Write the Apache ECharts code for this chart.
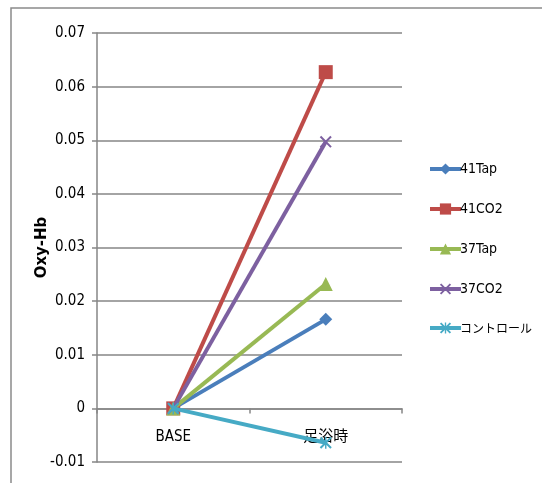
<!DOCTYPE html>
<html>
<head>
<meta charset="utf-8">
<script src="https://cdn.jsdelivr.net/npm/echarts@6/dist/echarts.min.js"></script>
<style>
  html, body { margin: 0; padding: 0; background: #fff; }
  #chart { width: 542px; height: 483px; }
</style>
</head>
<body>
<div id="chart"></div>
<script>
// Measurement phases
const categories = ['BASE', '足浴時'];

// Oxy-Hb change per condition
const tap41 = [0, 0.0166];
const co2_41 = [0, 0.0627];
const tap37 = [0, 0.0232];
const co2_37 = [0, 0.0497];
const control = [0, -0.0064];

const seriesNames = ['41Tap', '41CO2', '37Tap', '37CO2', 'コントロール'];
const yTicks = { min: -0.01, max: 0.07, step: 0.01 };

const colors = ['#4A7EBB', '#BE4B48', '#98B954', '#7D60A0', '#46AAC5'];
const crossPath = 'path://M0,1.2L1.2,0L10,8.8L8.8,10Z M8.8,0L10,1.2L1.2,10L0,8.8Z';
const starPath = 'path://M0,1.2L1.2,0L10,8.8L8.8,10Z M8.8,0L10,1.2L1.2,10L0,8.8Z M4.4,0L5.6,0L5.6,10L4.4,10Z';
const symbols = ['diamond', 'rect', 'triangle', crossPath, starPath];
const symbolSizes = [13, 14, 14, 12, 12];

const font = '"DejaVu Sans Condensed", "Liberation Sans Narrow", "Noto Sans CJK JP", sans-serif';
const cjkFont = '"DejaVu Sans Condensed", "Noto Sans CJK JP", sans-serif';
const dataSets = [tap41, co2_41, tap37, co2_37, control];

const chart = echarts.init(document.getElementById('chart'), null, { renderer: 'canvas' });

chart.setOption({
  animation: false,
  backgroundColor: '#fff',
  color: colors,
  graphic: [{
    type: 'rect',
    shape: { x: 11, y: 8, width: 700, height: 700 },
    style: { fill: 'none', stroke: '#8a8a8a', lineWidth: 1.5 },
    silent: true
  }],
  grid: { left: 97, right: 140, top: 33, bottom: 21, containLabel: false, outerBoundsMode: 'none' },
  legend: {
    orient: 'vertical',
    left: 423,
    top: 157,
    itemWidth: 31,
    itemHeight: 14,
    itemGap: 26,
    lineStyle: { width: 4 },
    formatter: name => /[^\x00-\x7f]/.test(name) ? '{jp|' + name + '}' : name,
    textStyle: {
      fontFamily: font, fontSize: 14, color: '#000', padding: [0, 0, 0, -6],
      rich: { jp: { fontFamily: '"Noto Sans CJK JP", sans-serif', fontSize: 12, color: '#000' } }
    },
    data: seriesNames
  },
  xAxis: {
    type: 'category',
    data: categories,
    boundaryGap: true,
    axisLine: { onZero: true, lineStyle: { color: '#868686', width: 1.5 } },
    axisTick: { show: true, length: 5, inside: false, lineStyle: { color: '#868686', width: 1.5 } },
    axisLabel: { fontFamily: cjkFont, fontSize: 15, color: '#000', margin: -32 },
    splitLine: { show: false }
  },
  yAxis: {
    type: 'value',
    name: 'Oxy-Hb',
    nameLocation: 'middle',
    nameGap: 47,
    nameMoveOverlap: false,
    nameRotate: 90,
    nameTextStyle: { fontFamily: '"DejaVu Sans", sans-serif', fontWeight: 'bold', fontSize: 15, color: '#000' },
    min: yTicks.min,
    max: yTicks.max,
    interval: yTicks.step,
    axisLine: { show: true, lineStyle: { color: '#868686', width: 1.5 } },
    axisTick: { show: true, length: 5, lineStyle: { color: '#868686', width: 1.5 } },
    axisLabel: {
      fontFamily: font, fontSize: 15, color: '#000', margin: 12,
      formatter: v => String(Math.round(v * 100) / 100)
    },
    splitLine: { show: true, lineStyle: { color: '#868686', width: 1.5 } }
  },
  series: dataSets.map((d, i) => ({
    name: seriesNames[i],
    type: 'line',
    data: d,
    symbol: symbols[i],
    symbolSize: symbolSizes[i],
    showAllSymbol: true,
    lineStyle: { width: 4, color: colors[i] },
    itemStyle: { color: colors[i] },
    z: 2 + i
  }))
});
</script>
</body>
</html>
